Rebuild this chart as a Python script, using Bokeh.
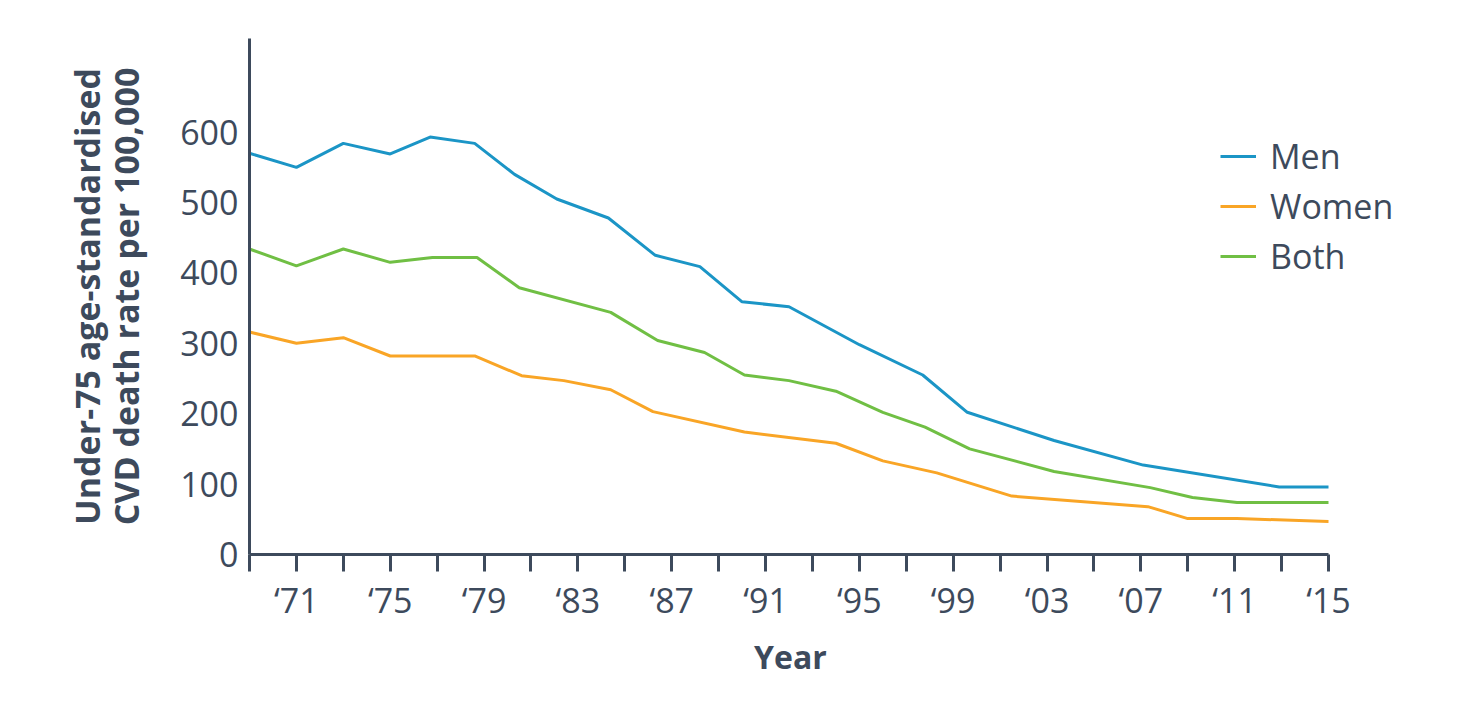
from bokeh.plotting import figure
from bokeh.models import Range1d, FixedTicker, Legend, LegendItem, Title
from bokeh.embed import file_html
from bokeh.resources import INLINE

# Data (year, rate per 100,000)
men_years = [1969, 1971, 1973, 1975, 1976.7, 1978.6, 1980.3, 1982.1, 1984.3, 1986.3, 1988.2,
             1990, 1992, 1995, 1997.7, 1999.6, 2003.3, 2007.1, 2012.9, 2015]
men_vals = [570, 550, 584, 569, 593, 584, 540, 505, 478, 425, 409,
            359, 352, 298, 255, 202, 162, 127, 96, 96]

women_years = [1969, 1971, 1973, 1975, 1978.6, 1980.6, 1982.4, 1984.4, 1986.2, 1990.1,
               1994, 1996, 1998.3, 2001.5, 2007.3, 2009, 2011.1, 2015]
women_vals = [316, 300, 308, 282, 282, 254, 247, 234, 203, 174,
              158, 133, 116, 83, 68, 51, 51, 47]

both_years = [1969, 1971, 1973, 1975, 1976.8, 1978.7, 1980.5, 1984.4, 1986.4, 1988.4, 1990.1,
              1992, 1994, 1996, 1997.8, 1999.7, 2003.3, 2007.4, 2009.2, 2011.1, 2015]
both_vals = [434, 410, 434, 415, 422, 422, 379, 344, 304, 287, 255,
             247, 232, 202, 181, 150, 118, 95, 81, 74, 74]

labeled_years = list(range(1971, 2016, 4))
minor_years = list(range(1969, 2016, 4))
y_ticks = [0, 100, 200, 300, 400, 500, 600]
x_start, x_end = 1969, 2015

TEXT = "#3d4a5c"
FONT = "Open Sans"

# frame extends right of 2015 so the legend fits; the axis line stops at 2015
px_per_year = (1328 - 249) / (x_end - x_start)
frame_right = 1440
view_end = x_start + (frame_right - 249) / px_per_year

p = figure(width=1449, height=687, output_backend="svg", toolbar_location=None,
           x_range=Range1d(x_start, view_end), y_range=Range1d(0, 733),
           min_border_left=249, min_border_right=1449 - frame_right,
           min_border_top=38, min_border_bottom=133)
p.outline_line_color = None
p.xgrid.grid_line_color = None
p.ygrid.grid_line_color = None
p.background_fill_color = "white"

r_men = p.line(men_years, men_vals, line_color="#1b95c6", line_width=3)
r_women = p.line(women_years, women_vals, line_color="#f9a526", line_width=3)
r_both = p.line(both_years, both_vals, line_color="#70bf44", line_width=3)

xa = p.xaxis[0]
xa.bounds = (x_start, x_end)
xa.ticker = FixedTicker(ticks=labeled_years, minor_ticks=minor_years)
xa.major_label_overrides = {y: "\u2018" + str(y)[2:] for y in labeled_years}
xa.axis_line_color = TEXT
xa.axis_line_width = 3
xa.major_tick_line_color = TEXT
xa.major_tick_line_width = 3
xa.minor_tick_line_color = TEXT
xa.minor_tick_line_width = 3
xa.major_tick_in = 0
xa.major_tick_out = 17
xa.minor_tick_in = 0
xa.minor_tick_out = 17
xa.major_label_text_font = FONT
xa.major_label_text_font_size = "34px"
xa.major_label_text_color = TEXT
xa.major_label_standoff = 5

# "Year" centred under the 1969-2015 axis line (not the wider frame)
year_title = Title(text="Year", align="left", offset=(1328 + 249) / 2 - 249 - 35,
                   text_font=FONT, text_font_style="bold", text_font_size="32px",
                   text_color=TEXT, standoff=15)
p.add_layout(year_title, "below")

ya = p.yaxis[0]
ya.ticker = FixedTicker(ticks=y_ticks)
ya.axis_line_color = TEXT
ya.axis_line_width = 3
ya.major_tick_in = 0
ya.major_tick_out = 0
ya.minor_tick_in = 0
ya.minor_tick_out = 0
ya.major_label_text_font = FONT
ya.major_label_text_font_size = "34px"
ya.major_label_text_color = TEXT
ya.major_label_standoff = 11
ya.axis_label = "Under-75 age-standardised\nCVD death rate per 100,000"
ya.axis_label_text_font = FONT
ya.axis_label_text_font_style = "bold"
ya.axis_label_text_font_size = "34px"
ya.axis_label_text_color = TEXT
ya.axis_label_text_line_height = 0.85
ya.axis_label_standoff = 28

legend = Legend(items=[LegendItem(label="Men", renderers=[r_men]),
                       LegendItem(label="Women", renderers=[r_women]),
                       LegendItem(label="Both", renderers=[r_both])],
                location=(971, 275), orientation="vertical")
legend.border_line_color = None
legend.background_fill_alpha = 0
legend.padding = 0
legend.margin = 0
legend.spacing = 4
legend.glyph_width = 36
legend.glyph_height = 40
legend.label_height = 40
legend.label_standoff = 14
legend.label_text_font = FONT
legend.label_text_font_size = "34px"
legend.label_text_color = TEXT
p.add_layout(legend, "center")

open("out.html", "w").write(file_html(p, INLINE))
